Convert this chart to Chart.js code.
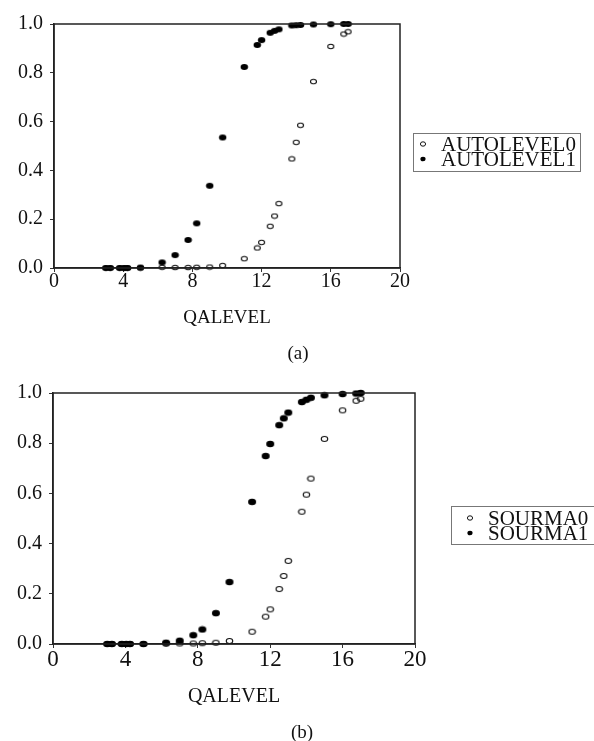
<!DOCTYPE html>
<html>
<head>
<meta charset="utf-8">
<script src="https://cdn.jsdelivr.net/npm/chart.js@4.4.1/dist/chart.umd.min.js"></script>
<style>
  html, body { margin: 0; padding: 0; background: #fff; }
  #wrap { position: relative; width: 594px; height: 741px; overflow: hidden; }
  canvas { position: absolute; left: 0; }
  .cap {
    position: absolute;
    font-family: "Liberation Serif", "Times New Roman", serif;
    font-size: 19px;
    color: #111;
    transform: translate(-50%, -50%);
  }
</style>
</head>
<body>
<div id="wrap">
  <canvas id="chartA" width="594" height="370" style="top:0"></canvas>
  <canvas id="chartB" width="594" height="371" style="top:370px"></canvas>
  <div class="cap" style="left:298px;top:353px">(a)</div>
  <div class="cap" style="left:302px;top:732px">(b)</div>
</div>
<script>
// Dữ liệu (a)
const qaLevelA = [3.0, 3.25, 3.8, 4.05, 4.25, 5.0, 6.25, 7.0, 7.75, 8.25, 9.0, 9.75,
    11.0, 11.75, 12.0, 12.5, 12.75, 13.0, 13.75, 14.0, 14.25, 15.0, 16.0, 16.75, 17.0];
const autoLevel0 = [0, 0, 0, 0, 0, 0, 0.003, 0.002, 0.002, 0.003, 0.004, 0.01,
    0.038, 0.082, 0.105, 0.171, 0.213, 0.264, 0.447, 0.515, 0.585, 0.764, 0.908, 0.959, 0.968];
const autoLevel1 = [0, 0, 0, 0, 0, 0.002, 0.023, 0.053, 0.115, 0.183, 0.337, 0.535,
    0.824, 0.914, 0.934, 0.964, 0.972, 0.978, 0.994, 0.995, 0.996, 0.998, 0.999, 1.0, 1.0];

// Dữ liệu (b)
const qaLevelB = [3.0, 3.25, 3.8, 4.05, 4.25, 5.0, 6.25, 7.0, 7.75, 8.25, 9.0, 9.75,
    11.0, 11.75, 12.0, 12.5, 12.75, 13.0, 13.75, 14.0, 14.25, 15.0, 16.0, 16.75, 17.0];
const sourma0 = [0, 0, 0, 0, 0, 0, 0.001, 0.002, 0.002, 0.003, 0.005, 0.012,
    0.049, 0.109, 0.138, 0.219, 0.271, 0.331, 0.527, 0.595, 0.659, 0.817, 0.931, 0.969, 0.977];
const sourma1 = [0, 0, 0, 0, 0, 0, 0.005, 0.013, 0.035, 0.058, 0.123, 0.247,
    0.566, 0.749, 0.797, 0.872, 0.899, 0.922, 0.964, 0.973, 0.981, 0.991, 0.996, 0.998, 1.0];

// Nhãn trục
const xTicks = [0, 4, 8, 12, 16, 20];
const yTicks = [0, 0.2, 0.4, 0.6, 0.8, 1.0];

const SERIF = '"Liberation Serif", "Times New Roman", serif';

// Tạo marker hình elip (đặc hoặc rỗng)
function makeMarker(w, h, filled) {
    const c = document.createElement('canvas');
    c.width = w + 2;
    c.height = h + 2;
    const g = c.getContext('2d');
    g.beginPath();
    g.ellipse(c.width / 2, c.height / 2, w / 2 - (filled ? 0 : 0.5), h / 2 - (filled ? 0 : 0.5), 0, 0, Math.PI * 2);
    if (filled) {
        g.fillStyle = '#000';
        g.fill();
    } else {
        g.lineWidth = 1.1;
        g.strokeStyle = '#111';
        g.stroke();
    }
    return c;
}

// Khung quanh vùng vẽ + chú thích
const framePlugin = {
    id: 'frame',
    afterDraw(chart, args, opts) {
        const { ctx, chartArea: a } = chart;
        ctx.save();
        ctx.strokeStyle = '#222';
        ctx.lineWidth = 1.5;
        ctx.strokeRect(a.left, a.top, a.right - a.left, a.bottom - a.top);

        const L = opts.legend;
        ctx.lineWidth = 1;
        ctx.strokeStyle = '#777';
        ctx.strokeRect(L.x + 0.5, L.y + 0.5, L.w, L.h);
        ctx.font = '21px ' + SERIF;
        ctx.textBaseline = 'middle';
        ctx.textAlign = 'left';
        chart.data.datasets.forEach((ds, i) => {
            const y = L.rows[i];
            ctx.beginPath();
            if (ds.hollow) {
                ctx.ellipse(L.markX, y, 2.6, 2.2, 0, 0, Math.PI * 2);
                ctx.lineWidth = 1;
                ctx.strokeStyle = '#111';
                ctx.stroke();
            } else {
                ctx.ellipse(L.markX, y, 2.6, 2.3, 0, 0, Math.PI * 2);
                ctx.fillStyle = '#000';
                ctx.fill();
            }
            ctx.fillStyle = '#111';
            ctx.fillText(ds.label, L.textX, y + 1);
        });
        ctx.restore();
    }
};

function makeChart(id, cfg) {
    const ctx = document.getElementById(id).getContext('2d');
    return new Chart(ctx, {
        type: 'scatter',
        data: {
            datasets: [
                {
                    label: cfg.labels[0],
                    hollow: true,
                    order: 1,
                    clip: false,
                    data: cfg.x.map((x, i) => ({ x: x, y: cfg.y0[i] })),
                    pointStyle: makeMarker(cfg.mark[0], cfg.mark[1], false),
                    pointRadius: 4,
                    pointHoverRadius: 4
                },
                {
                    label: cfg.labels[1],
                    order: 0,
                    clip: false,
                    data: cfg.x.map((x, i) => ({ x: x, y: cfg.y1[i] })),
                    pointStyle: makeMarker(cfg.mark[0] + 0.5, cfg.mark[1] + 0.5, true),
                    pointRadius: 4,
                    pointHoverRadius: 4
                }
            ]
        },
        options: {
            responsive: false,
            animation: false,
            events: [],
            layout: {
                padding: { left: 0, top: cfg.top, right: 594 - cfg.right, bottom: 0 }
            },
            plugins: {
                legend: { display: false },
                tooltip: { enabled: false },
                frame: { legend: cfg.legend }
            },
            scales: {
                x: {
                    type: 'linear',
                    min: 0,
                    max: 20,
                    afterBuildTicks: s => { s.ticks = xTicks.map(v => ({ value: v })); },
                    afterFit: s => { s.height = cfg.xAxisH; },
                    ticks: {
                        font: { family: SERIF, size: cfg.xFont, lineHeight: 1 },
                        color: '#111',
                        padding: cfg.xPad,
                        maxRotation: 0,
                        autoSkip: false
                    },
                    grid: { drawOnChartArea: false, tickLength: 4, color: '#333' },
                    border: { color: '#222', width: 1.5 },
                    title: {
                        display: true,
                        text: 'QALEVEL',
                        color: '#111',
                        font: { family: SERIF, size: cfg.titleFont },
                        padding: { top: 0, bottom: cfg.titlePad }
                    }
                },
                y: {
                    type: 'linear',
                    min: 0,
                    max: 1,
                    afterBuildTicks: s => { s.ticks = yTicks.map(v => ({ value: v })); },
                    afterFit: s => { s.width = cfg.left; },
                    ticks: {
                        font: { family: SERIF, size: 20 },
                        color: '#111',
                        padding: 7,
                        callback: v => v.toFixed(1)
                    },
                    grid: { drawOnChartArea: false, tickLength: 4, color: '#333' },
                    border: { color: '#222', width: 1.5 }
                }
            }
        },
        plugins: [framePlugin]
    });
}

// Biểu đồ (a)
makeChart('chartA', {
    x: qaLevelA, y0: autoLevel0, y1: autoLevel1,
    labels: ['AUTOLEVEL0', 'AUTOLEVEL1'],
    left: 54, right: 400, top: 24, xAxisH: 102,
    xFont: 20, xPad: 0, titleFont: 19, titlePad: 41,
    mark: [7, 5.5],
    legend: { x: 413, y: 133, w: 167, h: 38, markX: 423, textX: 441, rows: [144, 159] }
});

// Biểu đồ (b)
makeChart('chartB', {
    x: qaLevelB, y0: sourma0, y1: sourma1,
    labels: ['SOURMA0', 'SOURMA1'],
    left: 53, right: 415, top: 23, xAxisH: 97,
    xFont: 23, xPad: 0, titleFont: 20, titlePad: 32,
    mark: [7.5, 6],
    legend: { x: 451, y: 136, w: 150, h: 38, markX: 470, textX: 488, rows: [148, 163] }
});
</script>
</body>
</html>
